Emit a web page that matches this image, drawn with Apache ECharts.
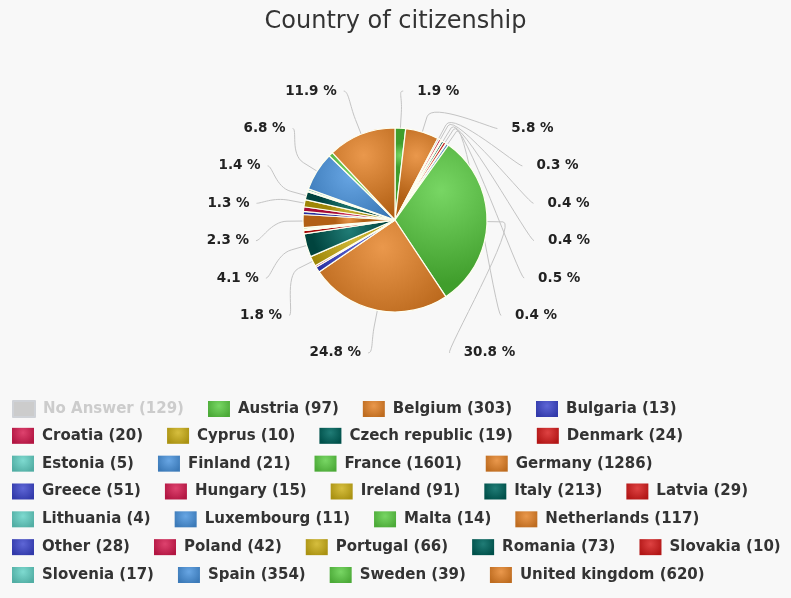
<!DOCTYPE html>
<html><head><meta charset="utf-8">
<script src="https://cdn.jsdelivr.net/npm/echarts@6/dist/echarts.min.js"></script>
<style>html,body{margin:0;padding:0;background:#f8f8f8}#c{width:791px;height:598px}</style>
</head><body><div id="c"></div>
<script>
// ---- data ----
const categories = ['No Answer','Austria','Belgium','Bulgaria','Croatia','Cyprus','Czech republic','Denmark','Estonia','Finland','France','Germany','Greece','Hungary','Ireland','Italy','Latvia','Lithuania','Luxembourg','Malta','Netherlands','Other','Poland','Portugal','Romania','Slovakia','Slovenia','Spain','Sweden','United kingdom'];
const counts = [129,97,303,13,20,10,19,24,5,21,1601,1286,51,15,91,213,29,4,11,14,117,28,42,66,73,10,17,354,39,620];
const hiddenCategories = ['No Answer'];
const legendRowSizes = [4,4,4,5,4,5,4];
const palette = ['#78d664','#ea984c','#5e66d6','#de426e','#d6be3e','#207c76','#de4242','#7edad0','#68a6e4'];

// ---- layout constants ----
const CX = 395, CY = 220, R = 92;
const RL = 140;            // label circle
const CONN_OFF = 16;       // connector elbow distance outside pie
const SLOT_H = 37.4;
const LABELS_PER_SIDE = 8;

function darken(hex, amt) {
  const n = parseInt(hex.slice(1), 16);
  const c = [(n >> 16) & 255, (n >> 8) & 255, n & 255].map(v => Math.max(0, Math.min(255, v - amt)));
  return 'rgb(' + c.join(',') + ')';
}
function grad(hex, amt, r) {
  return { type: 'radial', x: 0.5, y: 0.3, r: r,
    colorStops: [{ offset: 0, color: hex }, { offset: 1, color: darken(hex, amt) }] };
}
const countMap = {};
categories.forEach((n, i) => countMap[n] = counts[i]);
const colorOf = {};
categories.forEach((n, i) => colorOf[n] = palette[(i + palette.length - 1) % palette.length]);
const shownNames = categories.filter(n => hiddenCategories.indexOf(n) < 0);
const shownTotal = shownNames.reduce((s, n) => s + countMap[n], 0);
function pctText(name) { return (countMap[name] / shownTotal * 100).toFixed(1) + ' %'; }

// mid angles (clockwise from top) of visible slices
const labelInfo = {};
(function () {
  let acc = 0;
  const items = shownNames.map(n => {
    const a0 = acc; acc += countMap[n];
    const mid = (a0 + countMap[n] / 2) / shownTotal * 360;
    return { name: n, mid, side: mid > 180 ? 'left' : 'right', v: countMap[n] };
  });
  ['right', 'left'].forEach(side => {
    const list = items.filter(it => it.side === side);
    const keep = list.slice().sort((a, b) => b.v - a.v).slice(0, LABELS_PER_SIDE);
    keep.sort((a, b) => side === 'right' ? a.mid - b.mid : b.mid - a.mid);
    keep.forEach((it, k) => labelInfo[it.name] = { slot: k, side, mid: it.mid, n: keep.length });
  });
})();

function resolveName(params) {
  const a = shownNames[params.dataIndex], b = categories[params.dataIndex];
  if (b && pctText(b) === params.text && (!a || pctText(a) !== params.text)) return b;
  return a;
}

const seriesData = categories.map((n, i) => {
  const show = !!labelInfo[n];
  return { name: n, value: counts[i], itemStyle: { color: grad(colorOf[n], 56, 1.0) },
    label: { show }, labelLine: { show } };
});

const legends = [];
let start = 0;
legendRowSizes.forEach((sz, r) => {
  const rowNames = categories.slice(start, start + sz);
  start += sz;
  const sel = {};
  rowNames.forEach(n => { if (hiddenCategories.indexOf(n) >= 0) sel[n] = false; });
  legends.push({
    data: rowNames.map(n => ({ name: n, itemStyle: { color: grad(colorOf[n], 44, 0.8) } })),
    left: 12, top: 400 + r * 27.83, orient: 'horizontal',
    padding: 0, itemWidth: 22, itemHeight: 16, itemGap: 24, icon: 'rect',
    inactiveColor: '#cccccc', selected: sel,
    itemStyle: { borderWidth: 0 },
    formatter: name => name + ' (' + countMap[name] + ')',
    textStyle: { fontFamily: 'DejaVu Sans', fontWeight: 'bold', fontSize: 15, color: '#333333', padding: [0, 0, 0, 3] }
  });
});

function bezierPts(p0, c1, c2, p3, steps) {
  const out = [];
  for (let i = 0; i <= steps; i++) {
    const t = i / steps, u = 1 - t;
    out.push([
      u*u*u*p0[0] + 3*u*u*t*c1[0] + 3*u*t*t*c2[0] + t*t*t*p3[0],
      u*u*u*p0[1] + 3*u*u*t*c1[1] + 3*u*t*t*c2[1] + t*t*t*p3[1]
    ]);
  }
  return out;
}

const chart = echarts.init(document.getElementById('c'), null, { renderer: 'canvas' });
chart.setOption({
  backgroundColor: '#f8f8f8',
  animation: false,
  title: { text: 'Country of citizenship', left: 'center', top: 10, padding: 0,
    textStyle: { fontFamily: 'DejaVu Sans', fontWeight: 'normal', fontSize: 24, color: '#333333' } },
  legend: legends,
  series: [{
    type: 'pie', center: [CX, CY], radius: R, startAngle: 90, clockwise: true,
    avoidLabelOverlap: false,
    itemStyle: { borderColor: '#fffff0', borderWidth: 1.2 },
    label: { position: 'outside', formatter: p => pctText(p.name),
      fontFamily: 'DejaVu Sans', fontWeight: 'bold', fontSize: 13.5, color: '#222222' },
    labelLine: { lineStyle: { color: '#c4c4c4', width: 1 }, smooth: false },
    emphasis: { disabled: true },
    labelLayout: function (params) {
      const name = resolveName(params);
      const info = labelInfo[name];
      if (!info) return {};
      const th = info.mid * Math.PI / 180;
      const slotY = CY + 2 + (info.slot - 3.5) * SLOT_H;
      const naturalDy = -RL * Math.cos(th);
      let dy = slotY - CY - 4;
      // outermost slots take x from the slice's natural height
      if ((info.slot === 0 && naturalDy < -RL / 2) || (info.slot === info.n - 1 && naturalDy > RL / 2)) dy = naturalDy;
      const off = Math.sqrt(Math.max(0, RL * RL - dy * dy));
      const right = info.side === 'right';
      const x = right ? CX + off + 14 : CX - off - 7;
      const sx = right ? x - 14 : x + 7;
      const dir = right ? 1 : -1;
      const ex = CX + R * Math.sin(th), ey = CY - R * Math.cos(th);
      const p2 = [CX + (R + CONN_OFF) * Math.sin(th), CY - (R + CONN_OFF) * Math.cos(th)];
      const c2 = [CX + (R + 2 * CONN_OFF) * Math.sin(th), CY - (R + 2 * CONN_OFF) * Math.cos(th)];
      const curve = bezierPts([sx, slotY], [sx - 5 * dir, slotY], c2, p2, 16);
      const pts = [[ex, ey]].concat(curve.reverse());
      return { x: x, y: slotY, align: right ? 'left' : 'right', verticalAlign: 'middle',
        labelLinePoints: pts };
    },
    data: seriesData
  }]
});
</script></body></html>
